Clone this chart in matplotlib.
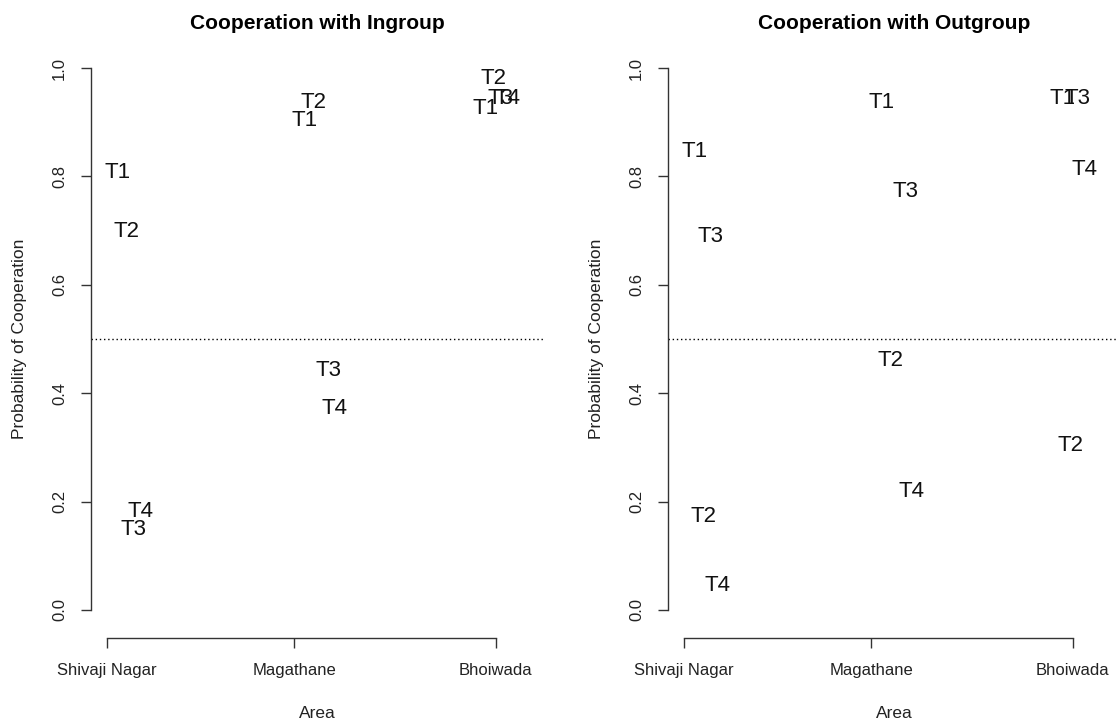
import matplotlib
matplotlib.use("Agg")
import matplotlib.pyplot as plt

plt.rcParams['font.family'] = ['Liberation Sans', 'DejaVu Sans']

# Areas and their axis positions
areas = ["Shivaji Nagar", "Magathane", "Bhoiwada"]
area_ticks = [1.0, 2.0, 3.074]

# One label per area x treatment
treatments = ["T1", "T2", "T3", "T4",
              "T1", "T2", "T3", "T4",
              "T1", "T2", "T3", "T4"]
x_pos = [1.060, 1.103, 1.141, 1.179,
         2.057, 2.103, 2.180, 2.216,
         3.017, 3.061, 3.101, 3.139]

# Probability of cooperation
p_ingroup = [0.807, 0.699, 0.148, 0.181,
             0.903, 0.937, 0.441, 0.372,
             0.926, 0.981, 0.944, 0.944]
p_outgroup = [0.846, 0.172, 0.689, 0.046,
              0.937, 0.460, 0.772, 0.218,
              0.944, 0.304, 0.944, 0.813]

titles = ["Cooperation with Ingroup", "Cooperation with Outgroup"]
series = [p_ingroup, p_outgroup]

W, H = 1117, 719
fig = plt.figure(figsize=(W / 100, H / 100), dpi=100)

boxes = [(91, 544), (668, 1121)]
top_px, bot_px = 40, 638

for (x0, x1), title, vals in zip(boxes, titles, series):
    ax = fig.add_axes([x0 / W, 1 - bot_px / H, (x1 - x0) / W, (bot_px - top_px) / H])
    ax.set_xlim(0.916, 3.331)
    ax.set_ylim(-0.0517, 1.0517)

    for lab, x, y in zip(treatments, x_pos, vals):
        ax.text(x, y, lab, ha='center', va='center', fontsize=16, color='#111111')

    ax.axhline(0.5, color='black', linestyle=(0, (1, 2)), linewidth=1.0)

    for s in ['top', 'right']:
        ax.spines[s].set_visible(False)
    ax.spines['left'].set_bounds(0, 1)
    ax.spines['bottom'].set_bounds(area_ticks[0], area_ticks[-1])
    for s in ['left', 'bottom']:
        ax.spines[s].set_color('#333333')
        ax.spines[s].set_linewidth(1.0)

    ax.set_yticks([0.0, 0.2, 0.4, 0.6, 0.8, 1.0])
    ax.set_yticklabels(["0.0", "0.2", "0.4", "0.6", "0.8", "1.0"],
                       rotation=90, va='center', fontsize=12)
    ax.set_xticks(area_ticks)
    ax.set_xticklabels(areas, fontsize=12)
    ax.tick_params(axis='both', length=7.2, width=1.0, color='#333333',
                   labelcolor='#222222')
    ax.tick_params(axis='y', pad=10)
    ax.tick_params(axis='x', pad=11)

    ax.set_title(title, fontsize=15, fontweight='bold', pad=8)
    ax.set_xlabel("Area", fontsize=12.5, color='#222222', labelpad=20)
    ax.set_ylabel("Probability of Cooperation", fontsize=12.5, color='#222222',
                  labelpad=18)
    ax.patch.set_alpha(0)

fig.savefig("out.png", dpi=100, facecolor='white')
